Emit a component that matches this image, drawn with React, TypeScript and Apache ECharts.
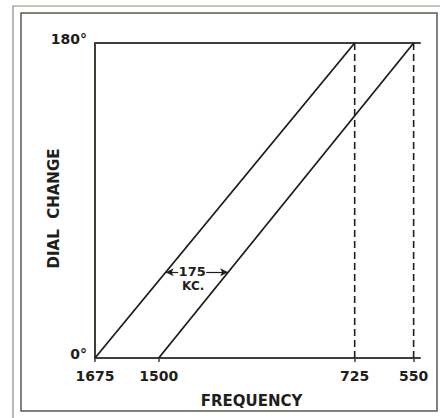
import React, { useEffect, useRef } from "react";
import * as echarts from "echarts";

// Printed frequency marks (kc) and where each falls along the (non-linear) dial scale, 0–100
const freqTicks = [1675, 1500, 725, 550];
const dialScale = [0, 20, 81.5, 100];
// Dial rotation range (degrees)
const dialDegrees = [0, 180];
// Oscillator curve and signal curve: frequency at 0° and at 180°
const oscillatorKc = [1675, 725];
const signalKc = [1500, 550];
// Separation annotation
const separationKc = 175;
const annotationDeg = 49;

const pos = (kc: number) => dialScale[freqTicks.indexOf(kc)];
const lineAt = (kcs: number[], deg: number) =>
  pos(kcs[0]) + ((pos(kcs[1]) - pos(kcs[0])) * (deg - dialDegrees[0])) / (dialDegrees[1] - dialDegrees[0]);

const INK = "#1e1e1a";
const AXIS = "#3f3f36";
const FONT = "DejaVu Sans";

export default function App() {
  const ref = useRef<HTMLDivElement>(null);
  useEffect(() => {
    document.body.style.margin = "0";
    const chart = echarts.init(ref.current!, undefined, { renderer: "svg" });
    const oscAt = lineAt(oscillatorKc, annotationDeg);
    const sigAt = lineAt(signalKc, annotationDeg);
    const labelX = 30.5;
    const option: any = {
      animation: false,
      backgroundColor: "#ffffff",
      grid: { left: 95, right: 20, top: 43, bottom: 60 },
      xAxis: [
        {
          type: "value",
          min: 0,
          max: 102,
          position: "bottom",
          splitLine: { show: false },
          axisLine: { show: true, onZero: false, lineStyle: { color: AXIS, width: 2 } },
          axisTick: {
            show: true,
            customValues: dialScale,
            length: 4,
            inside: false,
            lineStyle: { color: AXIS, width: 1.5 },
          },
          axisLabel: {
            customValues: dialScale,
            margin: 11,
            fontFamily: FONT,
            fontWeight: "bold",
            fontSize: 14,
            color: INK,
            formatter: (v: number) => {
              const i = dialScale.indexOf(v);
              return i >= 0 ? String(freqTicks[i]) : "";
            },
          },
          name: "FREQUENCY",
          nameLocation: "middle",
          nameGap: 35,
          nameMoveOverlap: false,
          nameTextStyle: { fontFamily: FONT, fontWeight: "bold", fontSize: 15, color: INK, padding: [0, 12, 0, 0] },
        },
        {
          type: "value",
          min: 0,
          max: 102,
          position: "top",
          splitLine: { show: false },
          axisLine: { show: true, onZero: false, lineStyle: { color: AXIS, width: 2 } },
          axisTick: { show: false },
          axisLabel: { show: false },
        },
      ],
      yAxis: {
        type: "value",
        min: dialDegrees[0],
        max: dialDegrees[1],
        interval: 180,
        splitLine: { show: false },
        axisLine: { show: true, onZero: false, lineStyle: { color: AXIS, width: 2 } },
        axisTick: { show: false },
        axisLabel: {
          margin: 8,
          fontFamily: FONT,
          fontWeight: "bold",
          fontSize: 14,
          color: INK,
          verticalAlign: "bottom",
          lineHeight: 8,
          formatter: (v: number) => `${v}°`,
        },
        name: "DIAL  CHANGE",
        nameLocation: "middle",
        nameRotate: 90,
        nameGap: 34,
        nameMoveOverlap: false,
        nameTextStyle: { fontFamily: FONT, fontWeight: "bold", fontSize: 15, color: INK, padding: [0, 16, 0, 0] },
      },
      graphic: [
        {
          type: "rect",
          shape: { x: 21, y: 13, width: 416, height: 398 },
          style: { fill: "none", stroke: "#5a5a50", lineWidth: 1.5 },
          silent: true,
        },
        {
          type: "polyline",
          shape: { points: [[13, 418], [13, 6], [440, 6]] },
          style: { fill: "none", stroke: "#8a8a80", lineWidth: 1.2 },
          silent: true,
        },
      ],
      series: [
        {
          type: "line",
          name: "oscillator",
          symbol: "none",
          lineStyle: { color: INK, width: 1.8 },
          data: [
            [pos(oscillatorKc[0]), dialDegrees[0]],
            [pos(oscillatorKc[1]), dialDegrees[1]],
          ],
          markLine: {
            silent: true,
            symbol: ["none", "arrow"],
            symbolSize: [6, 8],
            lineStyle: { color: INK, width: 1.2, type: "solid" },
            label: { show: false },
            data: [
              [
                { coord: [labelX - 4.4, annotationDeg] },
                { coord: [oscAt, annotationDeg] },
              ],
              [
                { coord: [labelX + 4.4, annotationDeg] },
                { coord: [sigAt, annotationDeg] },
              ],
            ],
          },
          markPoint: {
            silent: true,
            symbol: "circle",
            symbolSize: 0,
            data: [
              {
                coord: [labelX, annotationDeg],
                label: {
                  show: true,
                  position: "inside",
                  offset: [0, -1],
                  formatter: String(separationKc),
                  fontFamily: FONT,
                  fontWeight: "bold",
                  fontSize: 13,
                  color: INK,
                },
              },
              {
                coord: [labelX, annotationDeg],
                label: {
                  show: true,
                  position: "inside",
                  offset: [1, 14],
                  formatter: "KC.",
                  fontFamily: FONT,
                  fontWeight: "bold",
                  fontSize: 12,
                  color: INK,
                },
              },
            ],
          },
        },
        {
          type: "line",
          name: "signal",
          symbol: "none",
          lineStyle: { color: INK, width: 1.8 },
          data: [
            [pos(signalKc[0]), dialDegrees[0]],
            [pos(signalKc[1]), dialDegrees[1]],
          ],
        },
        {
          type: "line",
          name: "oscillator projection",
          symbol: "none",
          lineStyle: { color: INK, width: 1.6, type: [7, 4] },
          data: [
            [pos(oscillatorKc[1]), dialDegrees[1]],
            [pos(oscillatorKc[1]), dialDegrees[0]],
          ],
        },
        {
          type: "line",
          name: "signal projection",
          symbol: "none",
          lineStyle: { color: INK, width: 1.6, type: [7, 4] },
          data: [
            [pos(signalKc[1]), dialDegrees[1]],
            [pos(signalKc[1]), dialDegrees[0]],
          ],
        },
      ],
    };
    chart.setOption(option);
    return () => chart.dispose();
  }, []);
  return <div ref={ref} style={{ width: 440, height: 418 }} />;
}
